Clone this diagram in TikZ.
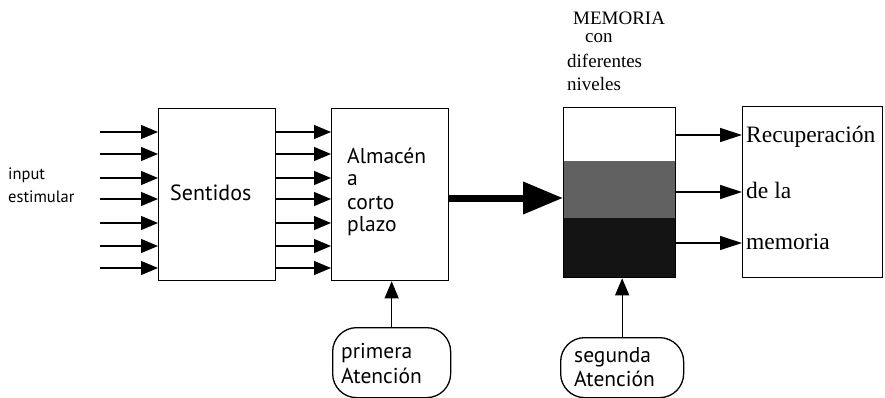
\documentclass[tikz,border=0pt]{standalone}
\usepackage{fontspec}
\setmainfont{Liberation Serif}
\newfontfamily\opt{PT Sans}
\usetikzlibrary{arrows.meta}
\begin{document}
\begin{tikzpicture}[x=1pt,y=-1pt,
  box/.style={draw,line width=1.3pt,inner sep=0pt,anchor=north west},
  arr/.style={line width=1.2pt,-{Triangle[length=17pt,width=14pt]}},
  thick arr/.style={line width=7pt,-{Triangle[length=40pt,width=31pt]}},
  att/.style={draw,line width=1.3pt,rounded corners=24pt,inner sep=0pt,anchor=north west},
  optxt/.style={font=\opt\fontsize{21.5}{25}\selectfont,anchor=west,inner sep=0pt},
  tmtxt/.style={font=\fontsize{23.5}{27}\selectfont,anchor=west,inner sep=0pt},
  smtxt/.style={font=\opt\fontsize{16.5}{19}\selectfont,anchor=west,inner sep=0pt},
  titletxt/.style={font=\fontsize{19}{22}\selectfont,anchor=west,inner sep=0pt}
]
\useasboundingbox (0,0) rectangle (885,398);

% boxes
\node[box,minimum width=117pt,minimum height=172pt] (sent) at (158,108) {};
\node[box,minimum width=117pt,minimum height=172pt] (alm) at (331,108) {};
\fill[black!62] (563,161) rectangle (675,218);
\fill[black!92] (563,218) rectangle (675,277);
\node[box,minimum width=112pt,minimum height=170pt] (mem) at (563,107) {};
\node[box,minimum width=140pt,minimum height=171pt] (rec) at (742,106) {};
\node[att,minimum width=118pt,minimum height=70pt] (pa) at (332,327) {};
\node[att,minimum width=123pt,minimum height=60pt] (sa) at (560,337) {};

% texts
\node[optxt,font=\opt\fontsize{22}{26}\selectfont] (tsent) at (170,193) {Sentidos};
\node[optxt] (t1) at (347,156) {Almacén};
\node[optxt] (t2) at (347,180) {a};
\node[optxt] (t3) at (347,203) {corto};
\node[optxt] (t4) at (347,226) {plazo};
\node[smtxt] (in1) at (8,175) {input};
\node[smtxt] (in2) at (8,197) {estimular};
\node[titletxt] (m1) at (573,18) {MEMORIA};
\node[titletxt] (m2) at (585,38) {con};
\node[titletxt] (m3) at (567,61) {diferentes};
\node[titletxt] (m4) at (567,84) {niveles};
\node[tmtxt] (r1) at (746,137) {Recuperación};
\node[tmtxt] (r2) at (746,190) {de la};
\node[tmtxt] (r3) at (746,242) {memoria};
\node[optxt] (p1) at (341,353) {primera};
\node[optxt] (p2) at (341,376) {Atención};
\node[optxt] (s1) at (574,357) {segunda};
\node[optxt] (s2) at (574,379) {Atención};

% input arrows
\foreach \i/\y in {1/132,2/154,3/178,4/199,5/223,6/246,7/268}{
  \coordinate (src\i) at (100,\y);
  \draw[arr] (src\i) -- (src\i -| sent.west);
  \draw[arr] (sent.east |- src\i) -- (alm.west |- src\i);
}
% thick arrow
\draw[thick arr] (alm.east |- 0,198) -- (mem.west |- 0,198);
% memory to recuperacion
\foreach \y in {135,192,243}{
  \draw[arr,-{Triangle[length=22pt,width=14pt]}] (mem.east |- 0,\y) -- (rec.west |- 0,\y);
}
% attention arrows
\draw[arr] (pa.north) -- (pa.north |- alm.south);
\draw[arr] (sa.north) -- (sa.north |- mem.south);
\end{tikzpicture}
\end{document}
